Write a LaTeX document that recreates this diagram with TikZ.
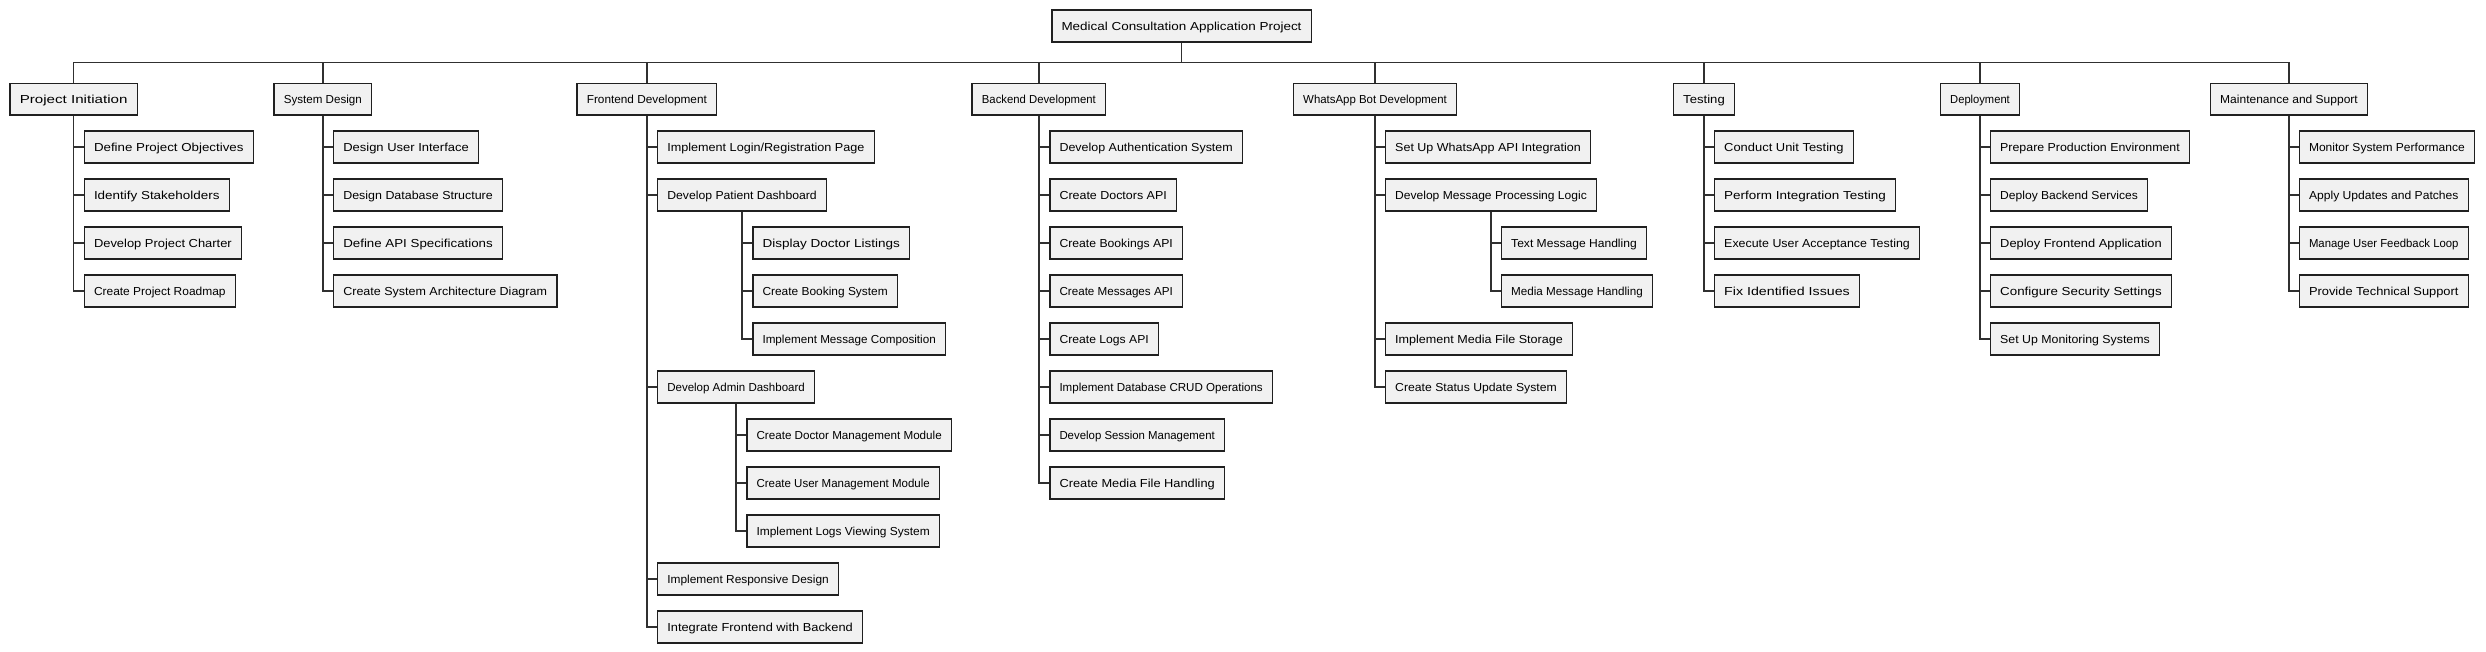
\documentclass[tikz,border=0pt]{standalone}
\usepackage{fontspec}
\setmainfont{Liberation Sans}
\usepackage{graphicx}
\definecolor{boxfill}{HTML}{F1F1F1}
\definecolor{boxline}{HTML}{202020}
\definecolor{connline}{HTML}{303030}
\newsavebox\fitbox
\newcommand\fitto[2]{\sbox\fitbox{#2}\pgfmathsetmacro\fitr{(#1)/\wd\fitbox}\scalebox{\fitr}[1]{\usebox\fitbox}}
\newcommand\bx[5]{%
  \pgfmathsetmacro\bxw{#3-#2}%
  \pgfmathsetmacro\bxc{(#2+#3)/2}%
  \pgfmathsetmacro\bxy{#4+16.65}%
  \node[wbs, minimum width=\bxw pt-1.5pt] (#1) at (\bxc,\bxy) {\fitto{\bxw-21}{#5}};}
\tikzset{
  wbs/.style={draw=boxline, fill=boxfill, line width=1.5pt, rectangle, inner sep=0pt,
    minimum height=31.8pt, font=\fontsize{11.6pt}{13pt}\selectfont, text height=8.3pt, text depth=0pt},
  conn/.style={draw=connline, line width=1.5pt}
}
\begin{document}
\begin{tikzpicture}[x=1pt,y=-1pt]
\useasboundingbox[fill=white] (0,0) rectangle (2486,652);
% root
\bx{root}{1051}{1312}{9.3}{Medical Consultation Application Project}
% level 1
\bx{pi}{9.3}{138}{82.7}{Project Initiation}
\bx{sd}{273.3}{372.3}{82.7}{System Design}
\bx{fd}{576.3}{717.4}{82.7}{Frontend Development}
\bx{bd}{971.4}{1106.3}{82.7}{Backend Development}
\bx{wb}{1292.7}{1457.3}{82.7}{WhatsApp Bot Development}
\bx{te}{1672.7}{1735.3}{82.7}{Testing}
\bx{de}{1939.7}{2020.3}{82.7}{Deployment}
\bx{ms}{2209.7}{2368.3}{82.7}{Maintenance and Support}
% Project Initiation
\bx{pi1}{83.5}{254}{130.3}{Define Project Objectives}
\bx{pi2}{83.5}{230}{178.3}{Identify Stakeholders}
\bx{pi3}{83.5}{242.3}{226.3}{Develop Project Charter}
\bx{pi4}{83.5}{236.1}{274.3}{Create Project Roadmap}
% System Design
\bx{sd1}{332.8}{479.3}{130.3}{Design User Interface}
\bx{sd2}{332.8}{503.3}{178.3}{Design Database Structure}
\bx{sd3}{332.8}{503.3}{226.3}{Define API Specifications}
\bx{sd4}{332.8}{557.5}{274.3}{Create System Architecture Diagram}
% Frontend
\bx{fd1}{656.8}{875}{130.3}{Implement Login/Registration Page}
\bx{fd2}{656.8}{827.3}{178.3}{Develop Patient Dashboard}
\bx{fd2a}{752}{910.3}{226.3}{Display Doctor Listings}
\bx{fd2b}{752}{898.3}{274.3}{Create Booking System}
\bx{fd2c}{752}{946.3}{322.3}{Implement Message Composition}
\bx{fd3}{656.8}{815.3}{370.3}{Develop Admin Dashboard}
\bx{fd3a}{746}{952.3}{418.3}{Create Doctor Management Module}
\bx{fd3b}{746}{940.3}{466.3}{Create User Management Module}
\bx{fd3c}{746}{940.3}{514.3}{Implement Logs Viewing System}
\bx{fd4}{656.8}{839.3}{562.3}{Implement Responsive Design}
\bx{fd5}{656.8}{863.3}{610.3}{Integrate Frontend with Backend}
% Backend
\bx{bd1}{1049}{1243.3}{130.3}{Develop Authentication System}
\bx{bd2}{1049}{1177.3}{178.3}{Create Doctors API}
\bx{bd3}{1049}{1183.3}{226.3}{Create Bookings API}
\bx{bd4}{1049}{1183.3}{274.3}{Create Messages API}
\bx{bd5}{1049}{1159.3}{322.3}{Create Logs API}
\bx{bd6}{1049}{1273.3}{370.3}{Implement Database CRUD Operations}
\bx{bd7}{1049}{1225.3}{418.3}{Develop Session Management}
\bx{bd8}{1049}{1225.3}{466.3}{Create Media File Handling}
% WhatsApp
\bx{wb1}{1384.7}{1591.3}{130.3}{Set Up WhatsApp API Integration}
\bx{wb2}{1384.7}{1597.3}{178.3}{Develop Message Processing Logic}
\bx{wb2a}{1500.7}{1647.3}{226.3}{Text Message Handling}
\bx{wb2b}{1500.7}{1653.3}{274.3}{Media Message Handling}
\bx{wb3}{1384.7}{1573.3}{322.3}{Implement Media File Storage}
\bx{wb4}{1384.7}{1567.3}{370.3}{Create Status Update System}
% Testing
\bx{te1}{1713.7}{1854}{130.3}{Conduct Unit Testing}
\bx{te2}{1713.7}{1896.3}{178.3}{Perform Integration Testing}
\bx{te3}{1713.7}{1920.3}{226.3}{Execute User Acceptance Testing}
\bx{te4}{1713.7}{1860.3}{274.3}{Fix Identified Issues}
% Deployment
\bx{de1}{1989.7}{2190.3}{130.3}{Prepare Production Environment}
\bx{de2}{1989.7}{2148.3}{178.3}{Deploy Backend Services}
\bx{de3}{1989.7}{2172.3}{226.3}{Deploy Frontend Application}
\bx{de4}{1989.7}{2172.3}{274.3}{Configure Security Settings}
\bx{de5}{1989.7}{2160.3}{322.3}{Set Up Monitoring Systems}
% Maintenance
\bx{ms1}{2298.5}{2475.3}{130.3}{Monitor System Performance}
\bx{ms2}{2298.5}{2469}{178.3}{Apply Updates and Patches}
\bx{ms3}{2298.5}{2469}{226.3}{Manage User Feedback Loop}
\bx{ms4}{2298.5}{2469}{274.3}{Provide Technical Support}
% connectors: top bar
\coordinate (bar) at (0,62.3);
\draw[conn] (root.south) -- (root.south |- bar);
\draw[conn] (pi.north) -- (pi.north |- bar) -- (ms.north |- bar) -- (ms.north);
\foreach \n in {sd,fd,bd,wb,te,de}{\draw[conn] (\n.north) -- (\n.north |- bar);}
% connectors: children
\foreach \c in {pi1,pi2,pi3,pi4}{\draw[conn] (pi.south) |- (\c.west);}
\foreach \c in {sd1,sd2,sd3,sd4}{\draw[conn] (sd.south) |- (\c.west);}
\foreach \c in {fd1,fd2,fd3,fd4,fd5}{\draw[conn] (fd.south) |- (\c.west);}
\foreach \c in {fd2a,fd2b,fd2c}{\draw[conn] (fd2.south) |- (\c.west);}
\foreach \c in {fd3a,fd3b,fd3c}{\draw[conn] (fd3.south) |- (\c.west);}
\foreach \c in {bd1,bd2,bd3,bd4,bd5,bd6,bd7,bd8}{\draw[conn] (bd.south) |- (\c.west);}
\foreach \c in {wb1,wb2,wb3,wb4}{\draw[conn] (wb.south) |- (\c.west);}
\foreach \c in {wb2a,wb2b}{\draw[conn] (wb2.south) |- (\c.west);}
\foreach \c in {te1,te2,te3,te4}{\draw[conn] (te.south) |- (\c.west);}
\foreach \c in {de1,de2,de3,de4,de5}{\draw[conn] (de.south) |- (\c.west);}
\foreach \c in {ms1,ms2,ms3,ms4}{\draw[conn] (ms.south) |- (\c.west);}
\end{tikzpicture}
\end{document}
